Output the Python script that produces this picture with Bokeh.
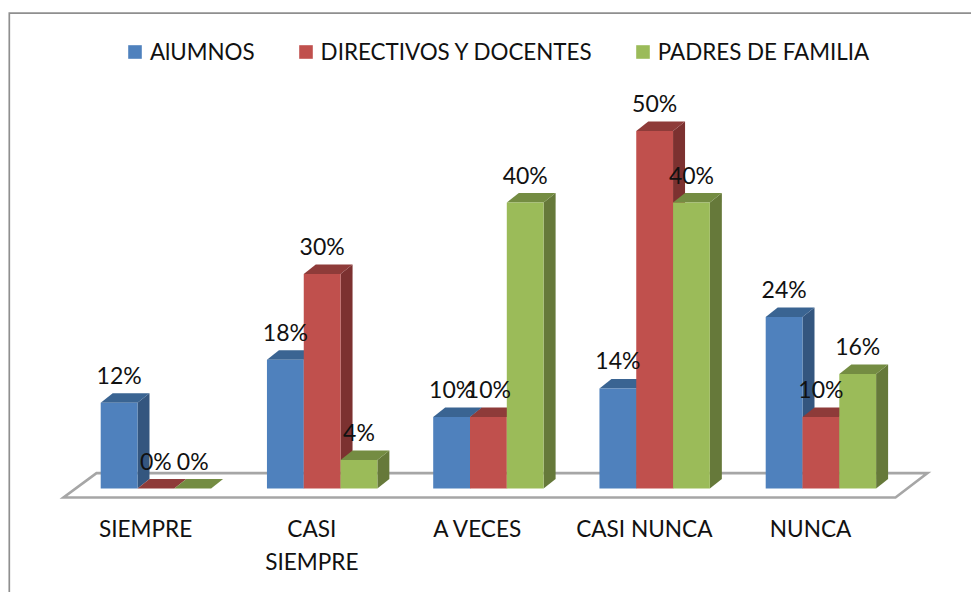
from bokeh.plotting import figure
from bokeh.models import Range1d, Legend, LegendItem, FixedTicker
from bokeh.embed import file_html
from bokeh.resources import INLINE
from bokeh.core.properties import value

categories = ["SIEMPRE", "CASI\nSIEMPRE", "A VECES", "CASI NUNCA", "NUNCA"]
series_names = ["AlUMNOS", "DIRECTIVOS Y DOCENTES", "PADRES DE FAMILIA"]
alumnos = [12, 18, 10, 14, 24]
directivos = [0, 30, 10, 50, 10]
padres = [0, 4, 40, 40, 16]
front_colors = ["#4F81BD", "#C0504D", "#9BBB59"]
top_colors = ["#3A6492", "#8E3B39", "#748C42"]
side_colors = ["#34567F", "#7C3130", "#66793A"]

FONT = "Lato"
W, H = 971, 592
X0 = 100.2
PX_CAT = 166.25
PX_PCT = 7.15
BAR_W = 36.8 / PX_CAT
DX = 12 / PX_CAT
DY = 9.5 / PX_PCT

p = figure(width=W, height=H, output_backend="svg", toolbar_location=None,
           min_border=0, min_border_left=0, min_border_top=0, min_border_bottom=0, min_border_right=0,
           x_range=Range1d(-X0 / PX_CAT, (W - X0) / PX_CAT),
           y_range=Range1d((488 - H) / PX_PCT, 488 / PX_PCT),
           background_fill_color="white", border_fill_color="white")
p.grid.visible = False
p.outline_line_color = None
p.yaxis.visible = False

# chart area border: left and top sides only
border_x = (8.8 - X0) / PX_CAT
border_y = (488 - 12.7) / PX_PCT
p.line([border_x, border_x, (W - X0) / PX_CAT], [(488 - H) / PX_PCT, border_y, border_y],
       line_color="#8f8f8f", line_width=1.7, line_join="miter")

# floor
n = len(categories)
fl_front = -1.26
fl_back = 2.15
p.patch([(63 - X0) / PX_CAT, (n - 1) + (895 - X0 - 665) / PX_CAT,
         (n - 1) + (927 - X0 - 665) / PX_CAT, (96 - X0) / PX_CAT],
        [fl_front, fl_front, fl_back, fl_back],
        fill_color="white", line_color="#a6a6a6", line_width=2.6, line_join="miter")

# bars
all_series = [alumnos, directivos, padres]
renderers = []
for j, vals in enumerate(all_series):
    lefts = [i + j * BAR_W for i in range(n)]
    rights = [l + BAR_W for l in lefts]
    p.patches([[r, r + DX, r + DX, r] for r in rights],
              [[0, DY, v + DY, v] for v in vals],
              fill_color=side_colors[j], line_color=None)
    p.patches([[l, r, r + DX, l + DX] for l, r in zip(lefts, rights)],
              [[v, v, v + DY, v + DY] for v in vals],
              fill_color=top_colors[j], line_color=None)
    renderers.append(p.quad(left=lefts, right=rights, bottom=[0] * n, top=vals,
                            fill_color=front_colors[j], line_color=None))

# data labels
for j, vals in enumerate(all_series):
    p.text([i + (j + 0.5) * BAR_W for i in range(n)], vals, text=[f"{v}%" for v in vals],
           text_font=value(FONT), text_font_size="23px", text_color="#111111",
           text_align="center", text_baseline="middle", y_offset=-28)

# category axis
ax = p.xaxis[0]
ax.fixed_location = -2.5
ax.axis_line_color = None
ax.major_tick_line_color = None
ax.minor_tick_line_color = None
ax.ticker = FixedTicker(ticks=[i + 0.27 for i in range(n)])
ax.major_label_overrides = {i + 0.27: c for i, c in enumerate(categories)}
ax.major_label_text_font = FONT
ax.major_label_text_font_size = "22.6px"
ax.major_label_text_color = "#111111"
ax.major_label_standoff = 3

legend = Legend(items=[LegendItem(label=s, renderers=[r]) for s, r in zip(series_names, renderers)],
                orientation="horizontal", location=(126, 527), glyph_width=17, glyph_height=17,
                label_standoff=7, spacing=42, padding=0, margin=0,
                background_fill_alpha=0, border_line_color=None,
                label_text_font=FONT, label_text_font_size="22.4px", label_text_color="#111111")
p.add_layout(legend, "center")

open("out.html", "w").write(file_html(p, INLINE))
